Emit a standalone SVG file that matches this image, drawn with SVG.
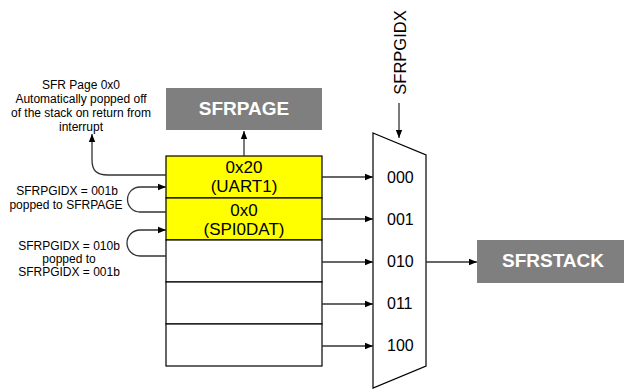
<svg xmlns="http://www.w3.org/2000/svg" width="624" height="389" viewBox="0 0 624 389">
<defs>
<marker id="ah" viewBox="0 0 10 10" refX="10" refY="5" markerWidth="8" markerHeight="8" markerUnits="userSpaceOnUse" orient="auto"><path d="M0,1 L10,5 L0,9 z" fill="#000"/></marker>
<style>
.t{font-family:"Liberation Sans",Arial,sans-serif;fill:#000}
.note{font-size:12px;text-anchor:middle}
.cell{font-size:17px;text-anchor:middle}
.mux{font-size:16px}
.box{fill:#7f7f7f}
.bt{font-family:"Liberation Sans",Arial,sans-serif;font-size:19px;font-weight:bold;fill:#fff;text-anchor:middle}
.ln{stroke:#000;stroke-width:1.2}
.y{fill:#ffff00}
.w{fill:#fff}
.arr{fill:none;stroke:#333;stroke-width:1.3;marker-end:url(#ah)}
</style>
</defs>
<rect width="624" height="389" fill="#fff"/>

<g id="sfrpage">
<rect class="box" x="166" y="88" width="156" height="42"/>
<text class="bt" x="244" y="115">SFRPAGE</text>
</g>

<g id="stack">
<rect x="166" y="156" width="156" height="42" class="ln y"/>
<rect x="166" y="198" width="156" height="42" class="ln y"/>
<rect x="166" y="240" width="156" height="42" class="ln w"/>
<rect x="166" y="282" width="156" height="42" class="ln w"/>
<rect x="166" y="324" width="156" height="42" class="ln w"/>
<text class="t cell" x="244" y="173">0x20</text>
<text class="t cell" x="244" y="192">(UART1)</text>
<text class="t cell" x="244" y="216">0x0</text>
<text class="t cell" x="244" y="235">(SPI0DAT)</text>
</g>

<g id="mux">
<path class="ln w" d="M373,133 L426,155 L426,366 L373,388 Z"/>
<text class="t mux" x="387" y="182.75">000</text>
<text class="t mux" x="387" y="224.75">001</text>
<text class="t mux" x="387" y="266.75">010</text>
<text class="t mux" x="387" y="308.75">011</text>
<text class="t mux" x="387" y="350.75">100</text>
</g>

<g id="sfrpgidx">
<text class="t" font-size="16.5" text-anchor="middle" transform="translate(406,52.5) rotate(-90)">SFRPGIDX</text>
</g>

<g id="sfrstack">
<rect class="box" x="477" y="240" width="147" height="43"/>
<text class="bt" x="553" y="267">SFRSTACK</text>
</g>

<g id="notes">
<text class="t note" x="81" y="89">SFR Page 0x0</text>
<text class="t note" x="81" y="103">Automatically popped off</text>
<text class="t note" x="81" y="117">of the stack on return from</text>
<text class="t note" x="81" y="131">interrupt</text>
<text class="t note" x="67" y="195">SFRPGIDX = 001b</text>
<text class="t note" x="66" y="209">popped to SFRPAGE</text>
<text class="t note" x="69" y="250">SFRPGIDX = 010b</text>
<text class="t note" x="69" y="263">popped to</text>
<text class="t note" x="69" y="276">SFRPGIDX = 001b</text>
</g>

<g id="connectors">
<path class="arr" d="M244,156 V131"/>
<path class="arr" d="M399,103 V138"/>
<path class="arr" d="M322,177 H373"/>
<path class="arr" d="M322,219 H373"/>
<path class="arr" d="M322,262 H373"/>
<path class="arr" d="M322,304 H373"/>
<path class="arr" d="M322,346 H373"/>
<path class="arr" d="M426,262 H477"/>
<path class="arr" d="M166,175 H108 C96,175 92,170 92,160 V134"/>
<path class="arr" d="M166,212 H140 A12.5,12.5 0 0 1 140,187 H166"/>
<path class="arr" d="M166,256 H140 A13,13 0 0 1 140,230 H166"/>
</g>
</svg>
